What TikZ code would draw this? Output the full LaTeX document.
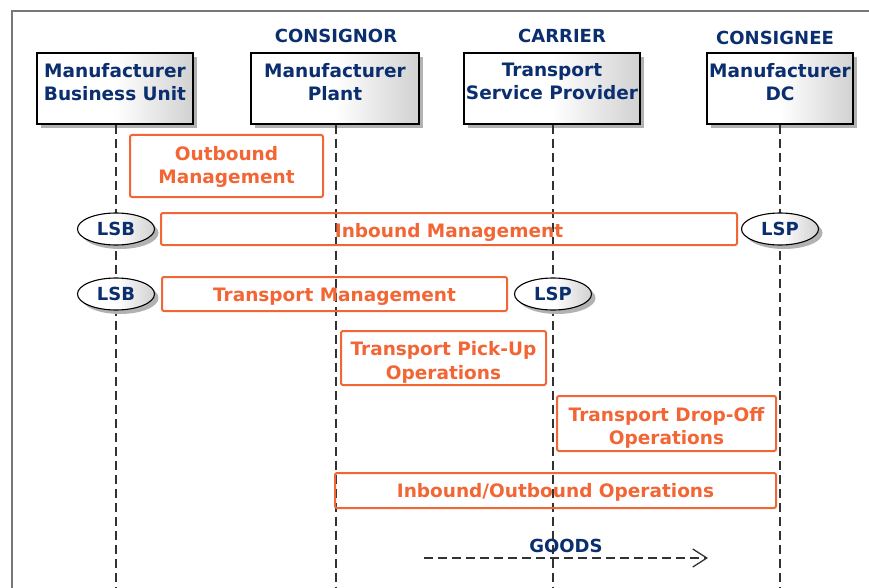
\documentclass[tikz,border=0pt]{standalone}
\usepackage{fontspec}
\setmainfont{DejaVu Sans}
\usetikzlibrary{shapes.geometric,shadows,arrows.meta}
\definecolor{navy}{RGB}{10,46,110}
\definecolor{orng}{RGB}{242,101,52}
\definecolor{framegray}{RGB}{120,120,120}
\definecolor{lifegray}{RGB}{50,50,50}
\newcommand{\otext}[2][3pt]{\raisebox{-#1}[\height][\depth]{\begin{tabular}{@{}c@{}}#2\end{tabular}}}
\tikzset{
  hdrbox/.style={draw=black, line width=1.4pt, minimum height=71pt, inner sep=0pt,
    left color=white, right color=black!18, middle color=white,
    drop shadow={shadow xshift=4pt, shadow yshift=-4pt, fill=black!30, opacity=1}},
  hdrtxt/.style={text=navy, font=\fontsize{18.5}{23}\selectfont\bfseries, align=center, inner sep=0pt},
  roletxt/.style={text=navy, font=\fontsize{18}{22}\selectfont\bfseries, inner sep=0pt},
  obox/.style={draw=orng, line width=2pt, rounded corners=2pt, text=orng,
    font=\fontsize{18.5}{23.5}\selectfont\bfseries, inner sep=0pt},
  oval/.style={ellipse, draw=black, line width=1.1pt, minimum width=77pt, minimum height=32pt,
    inner sep=0pt, left color=white, right color=black!18, middle color=white,
    text=navy, font=\fontsize{18}{22}\selectfont\bfseries,
    drop shadow={shadow xshift=4pt, shadow yshift=-4pt, fill=black!30, opacity=1}},
  life/.style={draw=lifegray, line width=1.3pt, dash pattern=on 9pt off 5pt},
}
\begin{document}
\begin{tikzpicture}[x=1pt,y=-1pt]
\useasboundingbox (0,0) rectangle (869,588);
% frame
\coordinate (fa) at (12,588);
\coordinate (fb) at (12,11);
\coordinate (fc) at (869,11);
\draw[framegray, line width=1.5pt] (fa) -- (fb) -- (fc);
% roles
\node[roletxt] (r2) at (336,36) {CONSIGNOR};
\node[roletxt] (r3) at (562,36) {CARRIER};
\node[roletxt] (r4) at (775,38) {CONSIGNEE};
% header boxes
\node[hdrbox, minimum width=156pt] (b1) at (115,88.5) {};
\node[hdrbox, minimum width=168pt] (b2) at (335,88.5) {};
\node[hdrbox, minimum width=176pt] (b3) at (552,88.5) {};
\node[hdrbox, minimum width=146pt] (b4) at (780,88.5) {};
\node[hdrtxt, anchor=north] (t1) at ([yshift=-11pt]b1.north) {Manufacturer\\Business Unit};
\node[hdrtxt, anchor=north] (t2) at ([yshift=-11pt]b2.north) {Manufacturer\\Plant};
\node[hdrtxt, anchor=north] (t3) at ([yshift=-11pt]b3.north) {Transport\\Service Provider};
\node[hdrtxt, anchor=north] (t4) at ([yshift=-11pt]b4.north) {Manufacturer\\DC};
% lifelines
\coordinate (e1) at (116,588);
\coordinate (e2) at (336,588);
\coordinate (e3) at (553,588);
\coordinate (e4) at (780,588);
\draw[life] (e1 |- b1.south) -- (e1);
\draw[life] (e2 |- b2.south) -- (e2);
\draw[life] (e3 |- b3.south) -- (e3);
\draw[life] (e4 |- b4.south) -- (e4);
% orange boxes
\node[obox, minimum width=193pt, minimum height=62pt] (om) at (226.5,166) {\otext[1.5pt]{Outbound\\Management}};
\node[obox, minimum width=576pt, minimum height=32pt] (im) at (449,229) {\otext[4pt]{Inbound Management}};
\node[obox, minimum width=345pt, minimum height=34pt] (tm) at (334.5,294) {\otext[2.5pt]{Transport Management}};
\node[obox, minimum width=205pt, minimum height=54pt] (tp) at (443.5,358) {\otext[5pt]{Transport Pick-Up\\Operations}};
\node[obox, minimum width=219pt, minimum height=55pt] (td) at (666.5,423.5) {\otext[5pt]{Transport Drop-Off\\Operations}};
\node[obox, minimum width=441pt, minimum height=35pt] (io) at (555.5,490.5) {\otext[2.5pt]{Inbound/Outbound Operations}};
% ellipses
\node[oval] (lsb1) at (116,229) {LSB};
\node[oval] (lsp1) at (780,229) {LSP};
\node[oval] (lsb2) at (116,294) {LSB};
\node[oval] (lsp2) at (553,294) {LSP};
% goods
\node[roletxt] (goods) at (566,546) {GOODS};
\coordinate (g1) at (424,558);
\coordinate (g2) at (708,558);
\draw[lifegray, line width=1.3pt, dash pattern=on 9pt off 5pt,
  -{Straight Barb[length=14pt,width=18pt,line width=1.3pt]}] (g1) -- (g2);
\end{tikzpicture}
\end{document}
